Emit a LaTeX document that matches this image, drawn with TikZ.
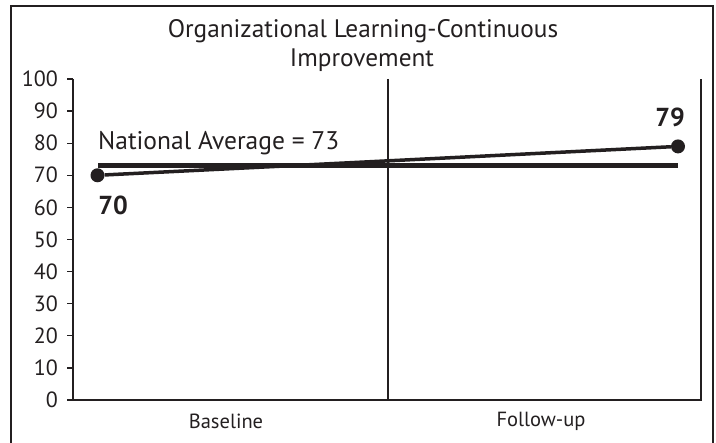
\documentclass[tikz,border=0pt]{standalone}
\usepackage{fontspec}
\setmainfont{PT Sans}
\definecolor{ink}{RGB}{35,31,32}

\begin{document}
\begin{tikzpicture}[
    x=1pt, y=-1pt,
    frame/.style={draw=ink, line width=2pt},
    axis/.style={draw=ink, line width=1.3pt},
    tick/.style={font=\fontsize{22}{22}\selectfont, text=ink, anchor=east, inner sep=0pt},
    title/.style={font=\fontsize{25.3}{25.3}\selectfont, text=ink, anchor=base},
    note/.style={font=\fontsize{25.5}{25.5}\selectfont, text=ink, anchor=base west, inner sep=0pt},
    value/.style={font=\fontsize{26}{26}\bfseries\selectfont, text=ink},
    category/.style={font=\fontsize{20.5}{20.5}\selectfont, text=ink},
    point/.style={circle, fill=ink, minimum size=14pt, inner sep=0pt},
    trend/.style={draw=ink, line width=3.5pt},
    average/.style={draw=ink, line width=5pt}
]
\useasboundingbox (0,0) rectangle (716,443);

% Outer frame - runs off the bottom of the page
\draw[frame] (11,470) -- (11,6) -- (713,6) -- (713,470);

% Title
\node[title] (title1) at (363,38) {Organizational Learning-Continuous};
\node[title] (title2) at (362,67) {Improvement};

% Axes and the divider between the two periods
\draw[axis] (73,79) -- (73,400) -- (701,400) -- (701,79);
\draw[axis] (388,79) -- (388,400);

% Y ticks (10 units = 32.1pt)
\foreach \v in {0,10,...,100} {
    \draw[axis] (67,{400-3.21*\v}) -- (73,{400-3.21*\v});
    \node[tick] at (58,{400-3.21*\v}) {\v};
}

% Categories
\node[category] (baseline) at (226,421) {Baseline};
\node[category] (followup) at (541,421) {Follow-up};

% National average = 73
\coordinate (avgL) at (98,{400-3.21*73});
\coordinate (avgR) at (678,{400-3.21*73});
\draw[average] (avgL) -- (avgR);
\node[note] (avgtext) at (98,150) {National Average = 73};

% Scores 70 -> 79
\node[point] (base) at (97.5,{400-3.21*70}) {};
\node[point] (follow) at (678,{400-3.21*79}) {};
\draw[trend] (base) -- (follow);
\node[value] (basevalue) at (113,205) {70};
\node[value] (followvalue) at (670,117) {79};

\end{tikzpicture}
\end{document}
